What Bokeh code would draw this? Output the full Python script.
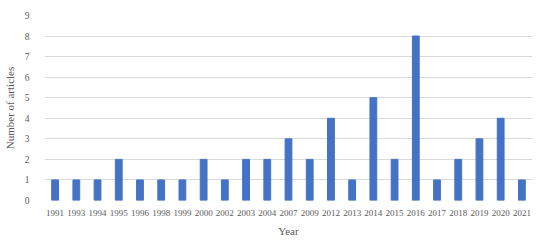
from bokeh.plotting import figure
from bokeh.models import ColumnDataSource, FixedTicker, Range1d
from bokeh.embed import file_html
from bokeh.resources import INLINE

years = ["1991", "1993", "1994", "1995", "1996", "1998", "1999", "2000", "2002", "2003",
         "2004", "2007", "2009", "2012", "2013", "2014", "2015", "2016", "2017", "2018",
         "2019", "2020", "2021"]
articles = [1, 1, 1, 2, 1, 1, 1, 2, 1, 2, 2, 3, 2, 4, 1, 5, 2, 8, 1, 2, 3, 4, 1]
y_ticks = list(range(0, 10))

src = ColumnDataSource(dict(year=years, n=articles))

p = figure(x_range=years, y_range=Range1d(0, 9), width=534, height=239,
           output_backend="svg", toolbar_location=None,
           min_border_left=32, min_border_right=2, min_border_top=15, min_border_bottom=30)
p.outline_line_color = None
p.vbar(x="year", top="n", width=0.32, source=src, color="#4472C4")

FONT = "Liberation Serif"
p.xgrid.grid_line_color = None
p.ygrid.grid_line_color = "#D9D9D9"
p.ygrid.grid_line_width = 1
p.yaxis.ticker = FixedTicker(ticks=y_ticks)

for ax in (p.xaxis[0], p.yaxis[0]):
    ax.axis_line_color = None
    ax.major_tick_line_color = None
    ax.minor_tick_line_color = None
    ax.major_label_text_font = FONT
    ax.major_label_text_color = "#595959"
    ax.axis_label_text_font = FONT
    ax.axis_label_text_font_style = "normal"
    ax.axis_label_text_color = "#595959"

p.xaxis.axis_label = "Year"
p.yaxis.axis_label = "Number of articles"
p.xaxis.major_label_text_font_size = "9px"
p.yaxis.major_label_text_font_size = "9.5px"
p.xaxis.axis_label_text_font_size = "11px"
p.yaxis.axis_label_text_font_size = "11px"
p.xaxis.major_label_standoff = 3
p.yaxis.major_label_standoff = 9
p.xaxis.axis_label_standoff = 6
p.yaxis.axis_label_standoff = 6

open("out.html", "w").write(file_html(p, INLINE))
